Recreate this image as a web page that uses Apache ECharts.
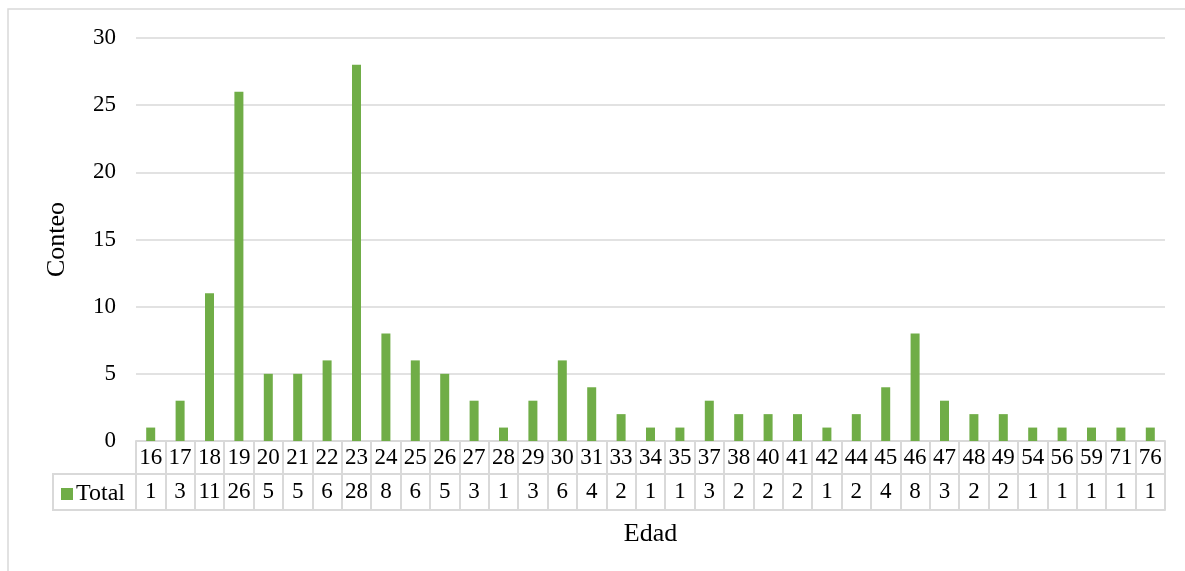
<!DOCTYPE html>
<html>
<head>
<meta charset="utf-8">
<script src="https://cdn.jsdelivr.net/npm/echarts@6/dist/echarts.min.js"></script>
<style>
html,body{margin:0;padding:0;background:#fff;}
#chart{width:1185px;height:571px;}
</style>
</head>
<body>
<div id="chart"></div>
<script>
const categories = ['16','17','18','19','20','21','22','23','24','25','26','27','28','29','30','31','33','34','35','37','38','40','41','42','44','45','46','47','48','49','54','56','59','71','76'];
const totals = [1,3,11,26,5,5,6,28,8,6,5,3,1,3,6,4,2,1,1,3,2,2,2,1,2,4,8,3,2,2,1,1,1,1,1];
const yTicks = {min: 0, max: 30, interval: 5};
const seriesName = 'Total';
const xTitle = 'Edad';
const yTitle = 'Conteo';

const FONT = "'Liberation Serif', 'Times New Roman', serif";
const GRID = '#d9d9d9';
const GREEN = '#70ad47';

const chart = echarts.init(document.getElementById('chart'));
chart.setOption({
  animation: false,
  backgroundColor: '#fff',
  textStyle: {fontFamily: FONT},
  grid: {left: 136, right: 20, top: 38, bottom: 130},
  legend: {
    data: [seriesName],
    left: 56, top: 477,
    icon: 'rect', itemWidth: 12, itemHeight: 12, itemGap: 6,
    textStyle: {fontFamily: FONT, fontSize: 24, color: '#000', padding: [0,0,0,-2]}
  },
  xAxis: [
    {
      type: 'category', data: categories, position: 'bottom',
      axisLine: {show: true, lineStyle: {color: GRID, width: 2}},
      axisTick: {show: true, length: 33, lineStyle: {color: GRID, width: 2}},
      axisLabel: {fontFamily: FONT, fontSize: 23, color: '#000', margin: 17, verticalAlign: 'middle', interval: 0},
      name: xTitle, nameLocation: 'middle', nameGap: 93,
      nameTextStyle: {fontFamily: FONT, fontSize: 26, color: '#000', verticalAlign: 'middle'}
    },
    {
      type: 'category', data: totals.map(String), position: 'bottom', offset: 33,
      axisLine: {show: true, lineStyle: {color: GRID, width: 2}},
      axisTick: {show: true, length: 36, lineStyle: {color: GRID, width: 2}},
      axisLabel: {fontFamily: FONT, fontSize: 23, color: '#000', margin: 18, verticalAlign: 'middle', interval: 0}
    },
    {
      type: 'category', data: categories, position: 'bottom', offset: 69,
      axisLine: {show: true, lineStyle: {color: GRID, width: 2}},
      axisTick: {show: false},
      axisLabel: {show: false}
    }
  ],
  yAxis: {
    type: 'value', min: yTicks.min, max: yTicks.max, interval: yTicks.interval,
    axisLine: {show: false}, axisTick: {show: false},
    axisLabel: {fontFamily: FONT, fontSize: 23, color: '#000', margin: 20},
    splitLine: {lineStyle: {color: GRID, width: 1.5}},
    name: yTitle, nameLocation: 'middle', nameGap: 66,
    nameTextStyle: {fontFamily: FONT, fontSize: 26, color: '#000'}
  },
  graphic: [
    {type: 'rect', shape: {x: 8, y: 9, width: 1300, height: 700}, style: {fill: 'none', stroke: GRID, lineWidth: 1.5}, silent: true, z: -1},
    {type: 'rect', shape: {x: 53, y: 474, width: 83, height: 36}, style: {fill: 'none', stroke: GRID, lineWidth: 2}, silent: true}
  ],
  series: [{
    name: seriesName, type: 'bar', data: totals, xAxisIndex: 0,
    barWidth: 9, itemStyle: {color: GREEN}
  }]
});
</script>
</body>
</html>
